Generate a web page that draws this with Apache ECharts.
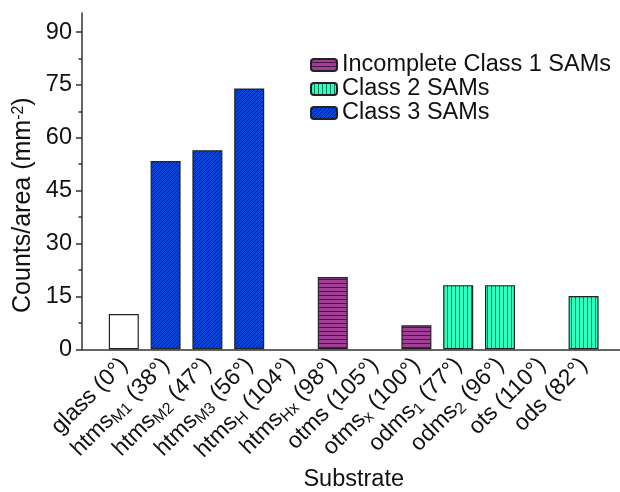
<!DOCTYPE html>
<html>
<head>
<meta charset="utf-8">
<script src="https://cdn.jsdelivr.net/npm/echarts@6/dist/echarts.min.js"></script>
<style>html,body{margin:0;padding:0;background:#fff}#c{width:620px;height:492px}</style>
</head>
<body>
<div id="c"></div>
<script>
// ---- data ----
const catNames  = ['glass','htms','htms','htms','htms','htms','otms','otms','odms','odms','ots','ods'];
const catSubs   = ['','M1','M2','M3','H','Hx','','x','1','2','',''];
const catAngles = ['0°','38°','47°','56°','104°','98°','105°','100°','77°','96°','110°','82°'];
const glassVals = [10, null, null, null, null, null, null, null, null, null, null, null];
const class1Vals = [null, null, null, null, null, 20.5, null, 6.8, null, null, null, null];
const class2Vals = [null, null, null, null, null, null, null, null, 18.2, 18.2, null, 15.1];
const class3Vals = [null, 53.4, 56.5, 74.0, null, null, null, null, null, null, null, null];
const seriesNames = ['Incomplete Class 1 SAMs', 'Class 2 SAMs', 'Class 3 SAMs'];
const yTicks = [0, 15, 30, 45, 60, 75, 90];
const yMinorTicks = [7.5, 22.5, 37.5, 52.5, 67.5, 82.5];

// ---- helpers ----
function pattern(bg, fg, kind) {
  const n = 4;
  const cv = document.createElement('canvas');
  cv.width = n; cv.height = n;
  const g = cv.getContext('2d');
  g.fillStyle = bg; g.fillRect(0, 0, n, n);
  g.fillStyle = fg; g.strokeStyle = fg;
  if (kind === 'h') { g.fillRect(0, n - 1, n, 1); }
  else if (kind === 'v') { g.fillRect(n - 1, 0, 1, n); }
  else {
    g.lineWidth = 1;
    g.beginPath();
    g.moveTo(-1, n + 1); g.lineTo(n + 1, -1);
    g.moveTo(-1, 1); g.lineTo(1, -1);
    g.moveTo(n - 1, n + 1); g.lineTo(n + 1, n - 1);
    g.stroke();
  }
  return { image: cv, repeat: 'repeat' };
}
const pad = a => [null].concat(a, [null]);
const axisCats = [''].concat(catNames.map((n, i) => {
  let s = '{n|' + n + '}';
  if (catSubs[i]) s += '{s|' + catSubs[i] + '}';
  s += '{n| (' + catAngles[i] + ')}';
  return s;
}), ['']);

const border = { borderColor: '#222', borderWidth: 1.2 };
const chart = echarts.init(document.getElementById('c'));
chart.setOption({
  animation: false,
  backgroundColor: '#fff',
  textStyle: { fontFamily: 'Liberation Sans, Arial, sans-serif' },
  grid: { left: 82, right: -5.4, top: 13, bottom: 142.7, containLabel: false, outerBoundsMode: 'none' },
  legend: {
    data: seriesNames,
    orient: 'vertical', left: 310, top: 53, padding: 0,
    itemWidth: 26, itemHeight: 12, itemGap: 0,
    selectedMode: false,
    textStyle: { fontSize: 23.5, color: '#111', lineHeight: 24 }
  },
  xAxis: {
    type: 'category',
    data: axisCats,
    boundaryGap: false,
    axisLine: { lineStyle: { color: '#333', width: 1.5 } },
    axisTick: { show: false },
    axisLabel: {
      interval: 0, rotate: 45, margin: 12, color: '#111', fontSize: 23,
      formatter: v => v,
      rich: {
        n: { fontSize: 23, color: '#111', verticalAlign: 'top', lineHeight: 22 },
        s: { fontSize: 16, color: '#111', verticalAlign: 'top', lineHeight: 16, padding: [9, 0, 0, 0] }
      }
    },
    name: 'Substrate', nameLocation: 'middle', nameGap: 118, nameMoveOverlap: false,
    nameTextStyle: { fontSize: 23.5, color: '#111' }
  },
  yAxis: [{
    type: 'value', min: 0, max: 95.4, interval: 15,
    splitLine: { show: false },
    axisLine: { show: true, lineStyle: { color: '#333', width: 1.5 } },
    axisTick: { show: true, inside: false, length: 6, customValues: yTicks, lineStyle: { color: '#333', width: 1.5 } },
    axisLabel: { fontSize: 23.5, color: '#111', margin: 10, customValues: yTicks },
    name: 'Counts/area (mm{sup|-2})', nameLocation: 'middle', nameRotate: 90, nameGap: 46, nameMoveOverlap: false,
    nameTextStyle: {
      fontSize: 25, color: '#111', padding: [0, 48, 0, 0],
      rich: { sup: { fontSize: 16, color: '#111', verticalAlign: 'top', lineHeight: 16, padding: [0, 0, 11, 0] } }
    }
  }, {
    type: 'value', min: 0, max: 95.4, position: 'left',
    splitLine: { show: false },
    axisLine: { show: false },
    axisLabel: { show: false },
    axisTick: { show: true, inside: false, length: 3.5, customValues: yMinorTicks, lineStyle: { color: '#333', width: 1.5 } }
  }],
  series: [
    { type: 'bar', name: 'glass', data: pad(glassVals), barWidth: 30, barGap: '-100%',
      itemStyle: Object.assign({ color: '#ffffff' }, border) },
    { type: 'bar', name: seriesNames[0], data: pad(class1Vals), barWidth: 30, barGap: '-100%',
      itemStyle: Object.assign({ color: pattern('#a03f95', '#4a1645', 'h') }, border) },
    { type: 'bar', name: seriesNames[1], data: pad(class2Vals), barWidth: 30, barGap: '-100%',
      itemStyle: Object.assign({ color: pattern('#30ffc0', '#137a5c', 'v') }, border) },
    { type: 'bar', name: seriesNames[2], data: pad(class3Vals), barWidth: 30, barGap: '-100%',
      itemStyle: Object.assign({ color: pattern('#0845d6', '#06247a', 'd') }, border) }
  ]
});
</script>
</body>
</html>
